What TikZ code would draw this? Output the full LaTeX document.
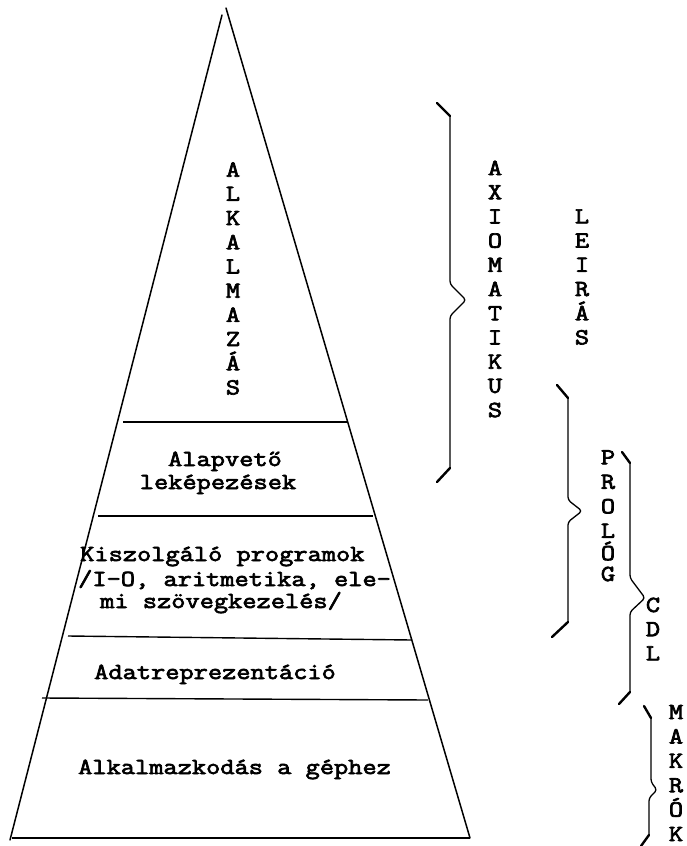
\documentclass[tikz,border=0pt]{standalone}
\usepackage{fontspec}
\newfontfamily\tw{Latin Modern Mono}[FakeStretch=1.2, FakeBold=3]
\begin{document}
\begin{tikzpicture}[x=1pt,y=-1pt,
  edge/.style={line width=1.5pt, line cap=round},
  rule/.style={line width=1.4pt},
  bline/.style={line width=1.3pt, rounded corners=3pt, line cap=round},
  hook/.style={line width=2.4pt, line cap=round},
  tt/.style={font=\tw\fontsize{23}{24.2}\selectfont, inner sep=0pt, align=center},
  txt/.style={font=\tw\fontsize{23}{24}\selectfont, inner sep=0pt, anchor=base west}]
\useasboundingbox (0,0) rectangle (686,846);

% pyramid outline
\coordinate (topL) at (222,15);
\coordinate (topR) at (226,8);
\coordinate (baseL) at (10,840);
\coordinate (baseR) at (470,838);
\draw[edge] (topL) -- (baseL);
\draw[edge] (topR) -- (baseR);
\draw[rule] (12,838) -- (baseR);

% layer boundaries
\draw[rule] (123,422) -- (347,422);
\draw[rule] (98,516) -- (373,516);
\draw[rule] (68,636) -- (412,640);
\draw[rule] (42,698) -- (428,700);

% layer labels
\node[tt] (alk) at (233,278.5) {A\\L\\K\\A\\L\\M\\A\\Z\\Á\\S};
\node[tt, anchor=base] (alap1) at (225,466) {Alapvető};
\node[tt, anchor=base] (alap2) at (218,489) {leképezések};
\node[txt] (kisz1) at (80,561) {Kiszolgáló programok};
\node[txt] (kisz2) at (78,586) {/I-O, aritmetika, ele-};
\node[txt] (kisz3) at (100,608) {mi szövegkezelés/};
\node[txt] (adat) at (94,679) {Adatreprezentáció};
\node[txt] (gep) at (78,774) {Alkalmazkodás a géphez};

% AXIOMATIKUS brace
\draw[hook] (437,103) -- (450,116);
\draw[bline] (450,116) -- (450,284) -- (466,300) -- (450,316) -- (450,468);
\draw[hook] (450,468) -- (437,482);
\node[tt] (axi) at (495,289) {A\\X\\I\\O\\M\\A\\T\\I\\K\\U\\S};

% LEIRÁS
\node[tt] (leir) at (582,277) {L\\E\\I\\R\\Á\\S};

% PROLÓG brace
\draw[hook] (557,385) -- (568,398);
\draw[bline] (568,398) -- (568,500) -- (582,511) -- (568,522) -- (568,622);
\draw[hook] (568,622) -- (552,637);
\node[tt, font=\tw\fontsize{23}{24.5}\selectfont] (prolog) at (608,494) {P\\R\\O\\L};
\node[tt] (prologO) at (608,551) {Ó};
\node[tt] (prologG) at (608,574) {G};

% CDL brace
\draw[hook] (622,452) -- (630,463);
\draw[bline] (630,463) -- (630,578) -- (645,598) -- (630,612) -- (630,692);
\draw[hook] (630,692) -- (619,704);
\node[tt] (cdl) at (653,629) {C\\D\\L};

% MAKRÓK brace
\draw[hook] (644,706) -- (651,718);
\draw[bline] (651,718) -- (651,782) -- (657,790) -- (649,798) -- (649,835);
\draw[hook] (649,835) -- (641,846);
\node[tt, font=\tw\fontsize{23}{24.4}\selectfont] (makr) at (676,773) {M\\A\\K\\R\\Ó\\K};
\end{tikzpicture}
\end{document}
